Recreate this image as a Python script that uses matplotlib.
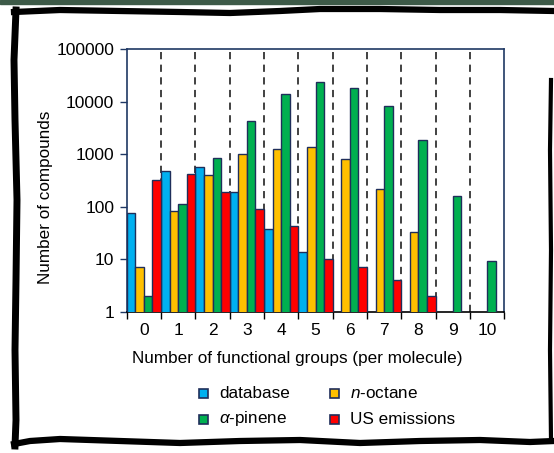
import numpy as np
import matplotlib
matplotlib.use("Agg")
import matplotlib.pyplot as plt
from matplotlib.patches import Rectangle
from matplotlib.lines import Line2D

plt.rcParams['font.family'] = ['Liberation Sans', 'DejaVu Sans']
plt.rcParams['mathtext.fontset'] = 'custom'
plt.rcParams['mathtext.rm'] = 'Liberation Sans'
plt.rcParams['mathtext.it'] = 'Liberation Sans:italic'

groups = [0, 1, 2, 3, 4, 5, 6, 7, 8, 9, 10]
tick_labels = [str(g) for g in groups]
database = [75, 479, 578, 193, 38, 13.5, np.nan, np.nan, np.nan, np.nan, np.nan]
n_octane = [7, 82, 410, 1010, 1240, 1370, 820, 214, 33, np.nan, np.nan]
a_pinene = [2, 111, 835, 4230, 13800, 24000, 18200, 8280, 1860, 162, 9.2]
us_emissions = [323, 414, 188, 89, 43, 10, 7, 4, 2, np.nan, np.nan]

series = [
    ("database", database, "#00B0F0"),
    ("$n$-octane", n_octane, "#FFC000"),
    (r"$\alpha$-pinene", a_pinene, "#00B050"),
    ("US emissions", us_emissions, "#FF0000"),
]

W, H = 554.0, 453.0
fig = plt.figure(figsize=(5.54, 4.53), dpi=100)
fig.patch.set_facecolor("white")
ax = fig.add_axes([0.2287, 0.3119, 0.9103 - 0.2287, 0.8912 - 0.3119])
ax.set_yscale("log")

x = np.arange(len(groups))
w = 0.25
edge = "#1F2E5A"
for i, (lab, vals, col) in enumerate(series):
    ax.bar(x - 0.375 + i * w, vals, width=w, color=col,
           edgecolor=edge, linewidth=1.0, label=lab, zorder=3)

for b in np.arange(0.5, 10.0, 1.0):
    ax.axvline(b, color="#333333", lw=1.3, ls=(0, (4, 3)), zorder=1)

ax.set_ylim(1, 100000)
ax.set_xlim(-0.5, 10.5)
ax.set_yticks([1, 10, 100, 1000, 10000, 100000])
ax.set_yticklabels(["1", "10", "100", "1000", "10000", "100000"], fontsize=12.5)
ax.yaxis.set_minor_locator(matplotlib.ticker.NullLocator())
ax.set_xticks(x)
ax.set_xticklabels(tick_labels, fontsize=12.5)
ax.tick_params(axis="x", which="major", length=0, pad=8)
ax.set_xticks(np.arange(-0.5, 11.0, 1.0), minor=True)
ax.tick_params(axis="x", which="minor", length=5, width=1, color="black", direction="out")
ax.tick_params(axis="y", which="major", length=5, width=1, color="#1F3864", direction="out", pad=4)

for s in ["left", "top", "right"]:
    ax.spines[s].set_color("#1F3864")
    ax.spines[s].set_linewidth(1.2)
ax.spines["bottom"].set_color("black")
ax.spines["bottom"].set_linewidth(1.2)

fig.text(297 / W, 1 - 358 / H, "Number of functional groups (per molecule)",
         ha="center", va="center", fontsize=12.3)
fig.text(46 / W, 1 - 197 / H, "Number of compounds", rotation=90,
         ha="center", va="center", fontsize=12.3)

# legend, laid out in two rows x two columns
leg_pos = [(199, 393), (330, 393), (199, 419), (330, 419)]
for (lab, _, col), (mx, my) in zip(series, leg_pos):
    fig.patches.append(Rectangle((mx / W, 1 - (my + 4.5) / H), 9 / W, 9 / H,
                                 transform=fig.transFigure, facecolor=col,
                                 edgecolor=edge, linewidth=1.2))
    fig.text((mx + 20) / W, 1 - my / H, lab, ha="left", va="center", fontsize=12.3)

# hand-drawn frame decoration
fig.patches.append(Rectangle((0, 1 - 4 / H), 1, 4 / H, transform=fig.transFigure,
                             color="#3D5A48", zorder=0))
top_x = [14, 60, 120, 180, 230, 280, 320, 380, 440, 500, 554]
top_y = [12, 10, 11, 12, 13, 11, 9, 9, 10, 10, 11]
fig.add_artist(Line2D([v / W for v in top_x], [1 - v / H for v in top_y],
                      transform=fig.transFigure, color="black", lw=4.5))
left_x = [16, 14, 15, 17, 16, 15, 16, 15]
left_y = [10, 60, 120, 200, 280, 350, 420, 446]
fig.add_artist(Line2D([v / W for v in left_x], [1 - v / H for v in left_y],
                      transform=fig.transFigure, color="black", lw=5))
bot_x = [14, 30, 60, 120, 180, 240, 300, 360, 420, 480, 530, 554]
bot_y = [444, 441, 439, 441, 443, 441, 440, 443, 441, 440, 442, 441]
fig.add_artist(Line2D([v / W for v in bot_x], [1 - v / H for v in bot_y],
                      transform=fig.transFigure, color="black", lw=4.5))
right_x = [551, 550, 551, 550, 551]
right_y = [80, 150, 250, 350, 440]
fig.add_artist(Line2D([v / W for v in right_x], [1 - v / H for v in right_y],
                      transform=fig.transFigure, color="black", lw=3))

fig.savefig("out.png", dpi=100)
